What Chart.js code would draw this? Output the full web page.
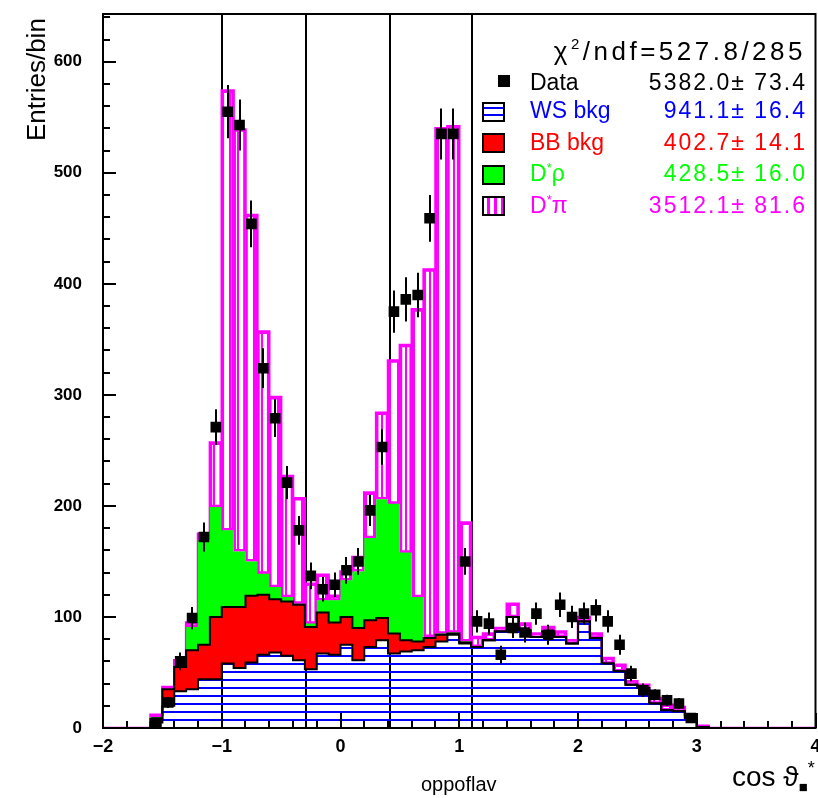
<!DOCTYPE html>
<html>
<head>
<meta charset="utf-8">
<script src="https://cdn.jsdelivr.net/npm/chart.js@4.4.1/dist/chart.umd.min.js"></script>
<style>
  html, body { margin: 0; padding: 0; background: #fff; }
  #wrap { position: relative; width: 818px; height: 798px; overflow: hidden;
          font-family: 'Liberation Sans', Arial, sans-serif; }
  #plot { position: absolute; left: 0; top: 0; }
  .txt { position: absolute; white-space: nowrap; line-height: 1; }
  .row { position: absolute; left: 530px; width: 275px; display: flex;
         justify-content: space-between; font-size: 23px; line-height: 23px; white-space: nowrap; }
  .row span.v { letter-spacing: 2px; margin-right: -2px; }
  .sym { position: absolute; left: 482px; width: 23px; height: 20px; box-sizing: border-box;
         border: 2px solid #000; }
  .st { font-size: 13px; position: relative; top: -9px; }
</style>
</head>
<body>
<div id="wrap">
  <!-- canvas a bit wider than the page: Chart.js keeps ~8px right of the plot, the page edge cuts it -->
  <canvas id="plot" width="823" height="798"></canvas>

  <div class="txt" style="left:23px; top:141px; font-size:26px; transform-origin:left top; transform:rotate(-90deg);">Entries/bin</div>
  <div class="txt" style="left:732px; top:763px; font-size:28px;">cos ϑ<span style="font-size:15px; position:relative; top:6px;">■</span><span style="font-size:18px; position:relative; top:-12px;">*</span></div>
  <div class="txt" style="left:421px; top:774px; font-size:20px;">oppoflav</div>

  <div class="txt" style="right:12px; top:38px; font-size:26px; letter-spacing:3.5px;">χ<span style="font-size:15px; position:relative; top:-11px;">2</span>/ndf=527.8/285</div>

  <div style="position:absolute; left:498px; top:75px; width:12px; height:12px; background:#000;"></div>
  <div class="row" style="top:71px; color:#000;"><span>Data</span><span class="v">5382.0± 73.4</span></div>

  <div class="sym" style="top:102px; background:repeating-linear-gradient(to bottom, #fff 0 3px, #00f 3px 5px, #fff 5px 7px);"></div>
  <div class="row" style="top:99px; color:#00f;"><span>WS bkg</span><span class="v">941.1± 16.4</span></div>

  <div class="sym" style="top:133px; background:#f00;"></div>
  <div class="row" style="top:131px; color:#f00;"><span>BB bkg</span><span class="v">402.7± 14.1</span></div>

  <div class="sym" style="top:165px; background:#0f0;"></div>
  <div class="row" style="top:162px; color:#0f0;"><span>D<span class="st">*</span>ρ</span><span class="v">428.5± 16.0</span></div>

  <div class="sym" style="top:196px; background:repeating-linear-gradient(to right, #fff 0 3px, #f0f 3px 6px, #fff 6px 7px);"></div>
  <div class="row" style="top:194px; color:#f0f;"><span>D<span class="st">*</span>π</span><span class="v">3512.1± 81.6</span></div>
</div>

<script>
// bins of 0.1 from -2 to 4
const xEdges = Array.from({ length: 61 }, (_, i) => Math.round((-2 + 0.1 * i) * 10) / 10);
const binCenters = xEdges.slice(0, 60).map((e) => Math.round((e + 0.05) * 100) / 100);

const wsBkg = [0, 0, 0, 0, 5, 20, 33, 35, 44, 44,
  58, 54, 59, 66, 68, 65, 61, 53, 67, 66,
  75, 61, 73, 79, 67, 69, 70, 73, 78, 84,
  76, 73, 79, 87, 100, 88, 82, 87, 82, 76,
  96, 81, 58, 51, 39, 36, 22, 16, 15, 9,
  1, 0, 0, 0, 0, 0, 0, 0, 0, 0];
const bbBkg = [0, 0, 0, 0, 3, 15, 22, 35, 31, 56,
  51, 55, 60, 54, 48, 49, 50, 38, 37, 29,
  25, 29, 24, 20, 18, 10, 8, 8, 6, 1,
  1, 0, 0, 0, 0, 0, 0, 0, 0, 0,
  0, 0, 0, 0, 0, 0, 0, 0, 0, 0,
  0, 0, 0, 0, 0, 0, 0, 0, 0, 0];
const dstRho = [0, 0, 0, 0, 2, 0, 1, 21, 94, 99,
  69, 50, 31, 19, 11, 4, 1, 3, 11, 20,
  33, 51, 74, 107, 117, 79, 40, 1, 1, 1,
  1, 0, 0, 0, 0, 0, 0, 0, 0, 0,
  0, 0, 0, 0, 0, 0, 0, 0, 0, 0,
  0, 0, 0, 0, 0, 0, 0, 0, 0, 0];
const dstPi = [0, 0, 0, 0, 2, 2, 5, 4, 6, 58,
  396, 380, 312, 218, 171, 109, 95, 36, 23, 4,
  8, 13, 41, 78, 129, 187, 259, 331, 455, 456,
  107, 9, 6, 3, 12, 6, 3, 4, 5, 3,
  4, 4, 5, 6, 3, 3, 5, 5, 4, 3,
  1, 0, 0, 0, 0, 0, 0, 0, 0, 0];
const dataCounts = [null, null, null, null, 5, 23, 60, 99, 172, 271,
  555, 543, 454, 324, 279, 221, 178, 137, 125, 129,
  142, 150, 196, 253, 375, 386, 390, 459, 535, 535,
  150, 96, 94, 66, 90, 86, 103, 84, 111, 100,
  103, 106, 96, 75, 49, 34, 30, 25, 22, 9,
  null, null, null, null, null, null, null, null, null, null];
const dataErrors = [null, null, null, null, 2, 5, 8, 10, 13, 16,
  24, 23, 21, 18, 17, 15, 13, 12, 11, 11,
  12, 12, 14, 16, 19, 20, 20, 21, 23, 23,
  12, 10, 10, 8, 9, 9, 10, 9, 11, 10,
  10, 10, 10, 9, 7, 6, 5, 5, 5, 3,
  null, null, null, null, null, null, null, null, null, null];

const cutLines = [-1.0, -0.29, 0.42, 1.105];
const xTickLabels = [-2, -1, 0, 1, 2, 3, 4];
const yTickLabels = [0, 100, 200, 300, 400, 500, 600];

// stacked tops
const wsTop = wsBkg.slice();
const bbTop = wsTop.map((v, i) => v + bbBkg[i]);
const rhoTop = bbTop.map((v, i) => v + dstRho[i]);
const piTop = rhoTop.map((v, i) => v + dstPi[i]);

const steps = (arr) => xEdges.map((x, i) => ({ x, y: arr[Math.min(i, arr.length - 1)] }));

function hatch(color, vertical) {
    const c = document.createElement('canvas');
    c.width = 8;
    c.height = 8;
    const g = c.getContext('2d');
    g.fillStyle = color;
    if (vertical) {
        g.fillRect(5, 0, 2, 8);
    } else {
        g.fillRect(0, 0, 8, 1);
        g.fillRect(0, 7, 8, 1);
    }
    return g.createPattern(c, 'repeat');
}

const piBars = [];
binCenters.forEach((x, i) => {
    if (dstPi[i] > 0) {
        piBars.push({ x, y: [rhoTop[i], piTop[i]] });
    }
});

const dataPoints = [];
binCenters.forEach((x, i) => {
    if (dataCounts[i] !== null) {
        dataPoints.push({ x, y: dataCounts[i] });
    }
});

const cutLinePlugin = {
    id: 'cutLines',
    beforeDatasetsDraw(chart) {
        const { ctx, chartArea, scales } = chart;
        ctx.save();
        ctx.strokeStyle = '#000';
        ctx.lineWidth = 2;
        cutLines.forEach((c) => {
            const px = Math.round(scales.x.getPixelForValue(c));
            ctx.beginPath();
            ctx.moveTo(px, chartArea.top);
            ctx.lineTo(px, chartArea.bottom);
            ctx.stroke();
        });
        ctx.restore();
    },
};

const errorBarPlugin = {
    id: 'errorBars',
    afterDatasetsDraw(chart) {
        const { ctx, scales } = chart;
        ctx.save();
        ctx.strokeStyle = '#000';
        ctx.lineWidth = 2;
        binCenters.forEach((x, i) => {
            if (dataCounts[i] === null) {
                return;
            }
            const px = Math.round(scales.x.getPixelForValue(x));
            ctx.beginPath();
            ctx.moveTo(px, scales.y.getPixelForValue(dataCounts[i] - dataErrors[i]));
            ctx.lineTo(px, scales.y.getPixelForValue(dataCounts[i] + dataErrors[i]));
            ctx.stroke();
        });
        ctx.restore();
    },
};

const framePlugin = {
    id: 'frame',
    afterDraw(chart) {
        const { ctx, chartArea, scales } = chart;
        const { left, right, top, bottom } = chartArea;
        ctx.save();
        ctx.strokeStyle = '#000';
        ctx.lineWidth = 2;
        ctx.strokeRect(left, top, right - left, bottom - top);
        ctx.beginPath();
        for (let v = -2; v <= 4.001; v += 0.2) {
            const major = Math.abs(v - Math.round(v)) < 0.01;
            const px = Math.round(scales.x.getPixelForValue(v));
            ctx.moveTo(px, bottom);
            ctx.lineTo(px, bottom - (major ? 15 : 7));
        }
        for (let v = 0; v <= 643; v += 20) {
            const major = v % 100 === 0;
            const py = Math.round(scales.y.getPixelForValue(v));
            ctx.moveTo(left, py);
            ctx.lineTo(left + (major ? 13 : 7), py);
        }
        ctx.stroke();
        ctx.restore();
    },
};

const noPad = (s) => {
    s.paddingTop = 0;
    s.paddingBottom = 0;
    s.paddingLeft = 0;
    s.paddingRight = 0;
};

const tickFont = { family: "'Liberation Sans', Arial, sans-serif", size: 18, weight: 'bold' };

new Chart(document.getElementById('plot'), {
    type: 'line',
    data: {
        datasets: [
            {
                label: 'Data',
                data: dataPoints,
                showLine: false,
                pointStyle: 'rect',
                pointRadius: 7.5,
                pointBackgroundColor: '#000',
                pointBorderWidth: 0,
            },
            {
                label: 'WS bkg',
                data: steps(wsTop),
                stepped: 'before',
                fill: 'origin',
                backgroundColor: hatch('#0000ff', false),
                borderColor: '#000',
                borderWidth: 2,
                pointRadius: 0,
            },
            {
                label: 'BB bkg',
                data: steps(bbTop),
                stepped: 'before',
                fill: '-1',
                backgroundColor: '#ff0000',
                borderColor: '#000',
                borderWidth: 2,
                pointRadius: 0,
            },
            {
                label: 'D*rho',
                data: steps(rhoTop),
                stepped: 'before',
                fill: '-1',
                backgroundColor: '#00ff00',
                borderColor: 'rgba(0,0,0,0)',
                borderWidth: 1,
                pointRadius: 0,
            },
            {
                type: 'bar',
                label: 'D*pi',
                data: piBars,
                backgroundColor: hatch('#ff00ff', true),
                borderColor: '#ff00ff',
                borderWidth: 2,
                borderSkipped: false,
                barPercentage: 1,
                categoryPercentage: 1,
            },
            {
                label: 'total',
                data: steps(piTop),
                stepped: 'before',
                fill: false,
                borderColor: '#ff00ff',
                borderWidth: 2.5,
                pointRadius: 0,
            },
        ],
    },
    options: {
        responsive: false,
        animation: false,
        devicePixelRatio: 1,
        layout: { padding: { top: 14, right: 0, left: 0, bottom: 0 } },
        plugins: { legend: { display: false }, tooltip: { enabled: false } },
        scales: {
            x: {
                type: 'linear',
                min: -2,
                max: 4,
                offset: false,
                afterBuildTicks: (s) => { s.ticks = xTickLabels.map((value) => ({ value })); },
                afterFit: (s) => { s.height = 70; noPad(s); },
                grid: { display: false, drawTicks: false },
                border: { display: false },
                ticks: {
                    padding: 8,
                    color: '#000',
                    font: tickFont,
                    maxRotation: 0,
                    autoSkip: false,
                    callback: (v) => (v < 0 ? '\u2212' + Math.abs(v) : String(v)),
                },
            },
            y: {
                min: 0,
                max: 643,
                afterBuildTicks: (s) => { s.ticks = yTickLabels.map((value) => ({ value })); },
                afterFit: (s) => { s.width = 103; noPad(s); },
                grid: { display: false, drawTicks: false },
                border: { display: false },
                ticks: { padding: 21, color: '#000', font: { ...tickFont, size: 17 } },
            },
        },
    },
    plugins: [cutLinePlugin, errorBarPlugin, framePlugin],
});
</script>
</body>
</html>
